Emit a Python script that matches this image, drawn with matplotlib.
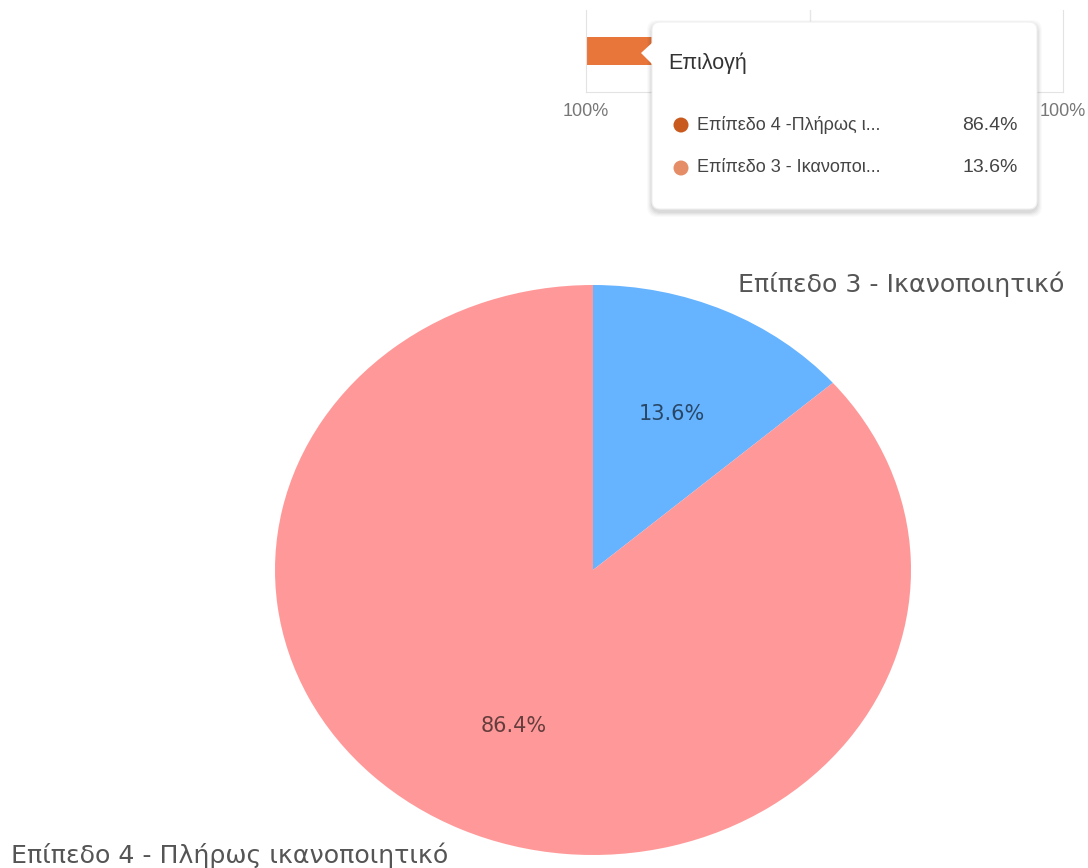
import numpy as np
import matplotlib.pyplot as plt
from matplotlib.patches import FancyBboxPatch, Polygon, Circle

# pie data
labels = ['Επίπεδο 3 - Ικανοποιητικό', 'Επίπεδο 4 - Πλήρως ικανοποιητικό']
sizes = [13.6, 86.4]
colors = ['#66b3ff', '#ff9999']

# tooltip rows (screenshot fragment above the pie)
tip_title = 'Επιλογή'
tip_names = ['Επίπεδο 4 -Πλήρως ι...', 'Επίπεδο 3 - Ικανοποι...']
tip_values = [86.4, 13.6]
tip_colors = ['#c95a1e', '#e58d66']
bar_value = [86.4]
bar_ticks = [-100, 100]
bar_ticklabels = ['100%', '100%']

W, H = 1088, 868
fig = plt.figure(figsize=(W / 100, H / 100), dpi=100)

## pie
ax = fig.add_axes([0, 0, 1, 1])
wedges, texts, autotexts = ax.pie(sizes, labels=labels, colors=colors,
                                  autopct='%1.1f%%', startangle=90,
                                  counterclock=False,
                                  textprops={'fontsize': 18.2, 'family': 'DejaVu Sans'})
for t in texts:
    t.set_color('#555555')
for t in autotexts:
    t.set_color('black')
    t.set_alpha(0.6)
    t.set_fontsize(15)
ax.set_aspect('auto')
# center at (593, 570) px, radii 318 x 285 px
ax.set_xlim(-593 / 318, (W - 593) / 318)
ax.set_ylim(-(H - 570) / 285, 570 / 285)
ax.axis('off')

## bar chart fragment behind the tooltip
bx = fig.add_axes([586 / W, 1 - 92 / H, (1063 - 586) / W, (92 - 10) / H])
bx.barh([0], [bar_value[0]], left=-100, height=0.33, color='#e8763a')
bx.set_xlim(-100, 100)
bx.set_ylim(-0.5, 0.5)
bx.axvline(-6, color='#e6e6e6', lw=1, zorder=0)
bx.set_xticks(bar_ticks)
bx.set_xticklabels(bar_ticklabels, family=['Liberation Sans Narrow', 'Liberation Sans'],
                   fontsize=13, color='#777777')
bx.tick_params(length=0, pad=8)
bx.set_yticks([])
for s in ['left', 'right', 'bottom']:
    bx.spines[s].set_color('#e3e3e3')
bx.spines['top'].set_visible(False)
bx.set_facecolor('none')

## tooltip overlay in pixel coordinates
ov = fig.add_axes([0, 0, 1, 1])
ov.set_xlim(0, W)
ov.set_ylim(H, 0)
ov.axis('off')

x0, y0, x1, y1 = 652, 22, 1037, 209
for i, a in enumerate([0.02, 0.025, 0.03, 0.035, 0.04]):
    d = 5 - i
    ov.add_patch(FancyBboxPatch((x0 - d, y0 - d + 3), x1 - x0 + 2 * d, y1 - y0 + 2 * d,
                                boxstyle='round,pad=0,rounding_size=10',
                                fc='black', ec='none', alpha=a))
ov.add_patch(FancyBboxPatch((x0, y0), x1 - x0, y1 - y0,
                            boxstyle='round,pad=0,rounding_size=8',
                            fc='white', ec='#f0f0f0', lw=0.8))
ov.add_patch(Polygon([[x0 + 1, 42], [641, 53], [x0 + 1, 65]], closed=True,
                     fc='white', ec='none'))

tip_font = ['Liberation Sans Narrow', 'Liberation Sans', 'DejaVu Sans']
ov.text(668, 63, tip_title, family=tip_font, fontsize=15.5, color='#333333',
        va='center', ha='left')
for i, (n, v, c) in enumerate(zip(tip_names, tip_values, tip_colors)):
    y = 125 + i * 43
    ov.add_patch(Circle((681, y), 7.5, fc=c, ec='none'))
    ov.text(697, y, n, family=tip_font, fontsize=13, color='#444444',
            va='center', ha='left')
    ov.text(1018, y, f'{v:.1f}%', family=tip_font, fontsize=14, color='#444444',
            va='center', ha='right')

fig.savefig('out.png', dpi=100)
